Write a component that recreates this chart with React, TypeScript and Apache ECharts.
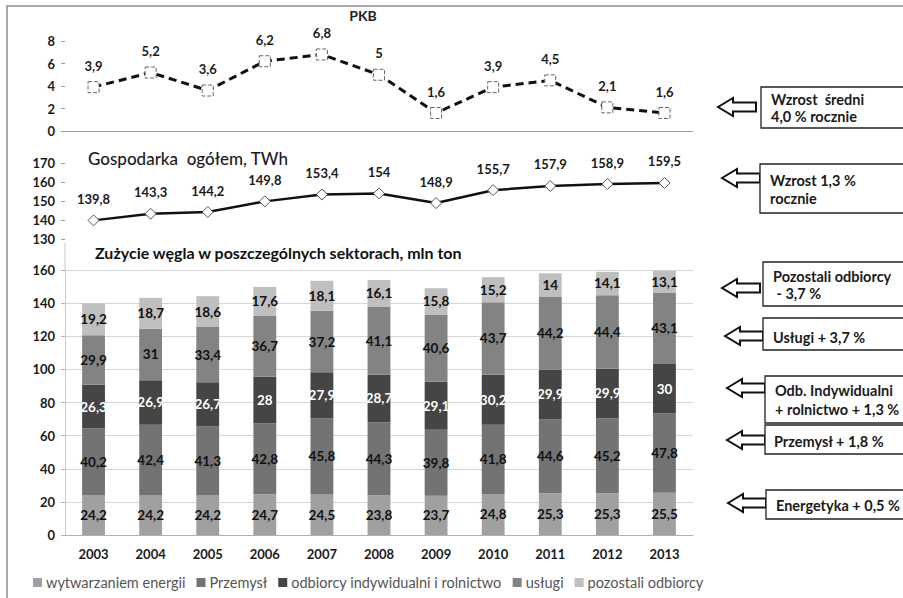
import React, { useEffect, useRef } from "react";
import * as echarts from "echarts";

const years = ["2003", "2004", "2005", "2006", "2007", "2008", "2009", "2010", "2011", "2012", "2013"];
const pkb = [3.9, 5.2, 3.6, 6.2, 6.8, 5, 1.6, 3.9, 4.5, 2.1, 1.6];
const gospodarka = [139.8, 143.3, 144.2, 149.8, 153.4, 154, 148.9, 155.7, 157.9, 158.9, 159.5];
const energia = [24.2, 24.2, 24.2, 24.7, 24.5, 23.8, 23.7, 24.8, 25.3, 25.3, 25.5];
const przemysl = [40.2, 42.4, 41.3, 42.8, 45.8, 44.3, 39.8, 41.8, 44.6, 45.2, 47.8];
const indywidualni = [26.3, 26.9, 26.7, 28, 27.9, 28.7, 29.1, 30.2, 29.9, 29.9, 30];
const uslugi = [29.9, 31, 33.4, 36.7, 37.2, 41.1, 40.6, 43.7, 44.2, 44.4, 43.1];
const pozostali = [19.2, 18.7, 18.6, 17.6, 18.1, 16.1, 15.8, 15.2, 14, 14.1, 13.1];

const barNames = [
  "wytwarzaniem energii",
  "Przemysł",
  "odbiorcy indywidualni i rolnictwo",
  "usługi",
  "pozostali odbiorcy",
];
const barData = [energia, przemysl, indywidualni, uslugi, pozostali];
const barColors = ["#a0a0a0", "#737373", "#454545", "#838383", "#bfbfbf"];
const barLabelColors = ["#111", "#111", "#fff", "#111", "#111"];

const annotations = [
  { tip: 718, yc: 107, bx: 761, by: 87, bh: 41, tx: 771, lines: [["Wzrost  średni", 99], ["4,0 % rocznie", 116]] },
  { tip: 722, yc: 178, bx: 760, by: 164, bh: 49, tx: 770, lines: [["Wzrost 1,3 %", 180], ["rocznie", 198]] },
  { tip: 722, yc: 288, bx: 763, by: 262, bh: 44, tx: 773, lines: [["Pozostali odbiorcy", 276], [" - 3,7 %", 293]] },
  { tip: 725, yc: 336, bx: 763, by: 318, bh: 32, tx: 773, lines: [["Usługi + 3,7 %", 337]] },
  { tip: 727, yc: 388, bx: 765, by: 376, bh: 47, tx: 775, lines: [["Odb. Indywidualni", 390], ["+ rolnictwo + 1,3 %", 409]] },
  { tip: 727, yc: 440, bx: 765, by: 425, bh: 29, tx: 774, lines: [["Przemysł + 1,8 %", 441]] },
  { tip: 728, yc: 503, bx: 766, by: 490, bh: 29, tx: 776, lines: [["Energetyka + 0,5 %", 505]] },
];

const FONT = "Lato, 'Open Sans', sans-serif";
const fmt = (p: any) => String(p.value).replace(".", ",");

export default function App() {
  const ref = useRef<HTMLDivElement>(null);
  useEffect(() => {
    if (!ref.current) return;
    const chart = echarts.init(ref.current, undefined, { renderer: "svg" });

    const graphics: any[] = [
      { type: "rect", shape: { x: 7, y: 6, width: 1000, height: 1000 }, style: { fill: "none", stroke: "#8a8a8a", lineWidth: 1.5 }, silent: true },
      { type: "line", shape: { x1: 65, y1: 243, x2: 65, y2: 270 }, style: { stroke: "#c8c8c8", lineWidth: 1 } },
      { type: "text", x: 363, y: 15, style: { text: "PKB", font: `bold 14px ${FONT}`, fill: "#222", textAlign: "center", textVerticalAlign: "middle" } },
      { type: "text", x: 88, y: 158, style: { text: "Gospodarka  ogółem, TWh", font: `500 17px ${FONT}`, fill: "#1a1a1a", textAlign: "left", textVerticalAlign: "middle" } },
      { type: "text", x: 95, y: 252, style: { text: "Zużycie węgla w poszczególnych sektorach, mln ton", font: `bold 16px ${FONT}`, fill: "#111", textAlign: "left", textVerticalAlign: "middle" } },
    ];
    annotations.forEach((a) => {
      const t = a.tip, y = a.yc;
      graphics.push({
        type: "polygon",
        shape: { points: [[t, y], [t + 15, y - 9], [t + 15, y - 4.5], [t + 38, y - 4.5], [t + 38, y + 4.5], [t + 15, y + 4.5], [t + 15, y + 9]] },
        style: { fill: "#fff", stroke: "#111", lineWidth: 2 },
      });
      graphics.push({ type: "rect", shape: { x: a.bx, y: a.by, width: 160, height: a.bh }, style: { fill: "#fff", stroke: "#222", lineWidth: 1.3 } });
      a.lines.forEach(([txt, ty]) => {
        graphics.push({ type: "text", x: a.tx, y: ty as number, style: { text: txt, font: `bold 14.5px ${FONT}`, fill: "#1a1a1a", textAlign: "left", textVerticalAlign: "middle" } });
      });
    });

    const yLabel = { fontFamily: FONT, fontWeight: "bold", fontSize: 13, color: "#1a1a1a", margin: 10 };
    const option: any = {
      animation: false,
      backgroundColor: "#fff",
      grid: [
        { left: 65, top: 41, width: 628, height: 90 },
        { left: 65, top: 163, width: 628, height: 76 },
        { left: 65, top: 270, width: 628, height: 265 },
      ],
      xAxis: [
        { type: "category", gridIndex: 0, data: years, axisLine: { lineStyle: { color: "#a0a0a0" } }, axisTick: { length: 4, lineStyle: { color: "#a0a0a0" } }, axisLabel: { show: false } },
        { type: "category", gridIndex: 1, data: years, show: false },
        { type: "category", gridIndex: 2, data: years, axisLine: { lineStyle: { color: "#b0b0b0" } }, axisTick: { length: 4, lineStyle: { color: "#b0b0b0" } }, axisLabel: { ...yLabel, margin: 12 } },
      ],
      yAxis: [
        { type: "value", gridIndex: 0, min: 0, max: 8, interval: 2, axisLine: { show: false }, axisTick: { show: true, length: 4, lineStyle: { color: "#a0a0a0" } }, splitLine: { show: false }, axisLabel: yLabel },
        { type: "value", gridIndex: 1, min: 130, max: 170, interval: 10, axisLine: { show: false }, axisTick: { show: true, length: 4, lineStyle: { color: "#a0a0a0" } }, splitLine: { show: false }, axisLabel: yLabel },
        { type: "value", gridIndex: 2, min: 0, max: 160, interval: 20, axisLine: { show: true, lineStyle: { color: "#c8c8c8" } }, axisTick: { show: true, length: 4, lineStyle: { color: "#b0b0b0" } }, splitLine: { lineStyle: { color: "#d6d6d6" } }, axisLabel: yLabel },
      ],
      legend: {
        data: barNames,
        left: 28,
        top: 570,
        itemWidth: 9,
        itemHeight: 9,
        itemGap: 11,
        icon: "rect",
        textStyle: { fontFamily: FONT, fontSize: 14.5, color: "#555", padding: [0, 0, 0, -1] },
      },
      series: [
        {
          type: "line",
          name: "PKB",
          xAxisIndex: 0,
          yAxisIndex: 0,
          data: pkb,
          lineStyle: { color: "#111", width: 3, type: [8, 5] },
          symbol: "rect",
          symbolSize: 11,
          itemStyle: { color: "#fff", borderColor: "#666", borderWidth: 1, borderType: "dashed" },
          label: { show: true, position: "top", distance: 9, formatter: fmt, fontFamily: FONT, fontWeight: "bold", fontSize: 13, color: "#1a1a1a" },
          z: 5,
        },
        {
          type: "line",
          name: "Gospodarka",
          xAxisIndex: 1,
          yAxisIndex: 1,
          data: gospodarka,
          lineStyle: { color: "#111", width: 2.5 },
          symbol: "diamond",
          symbolSize: [11, 11],
          itemStyle: { color: "#fff", borderColor: "#555", borderWidth: 1 },
          label: { show: true, position: "top", distance: 9, formatter: fmt, fontFamily: FONT, fontWeight: "bold", fontSize: 13, color: "#1a1a1a" },
          z: 5,
        },
        ...barNames.map((name, i) => ({
          type: "bar",
          name,
          stack: "coal",
          xAxisIndex: 2,
          yAxisIndex: 2,
          data: barData[i],
          barWidth: "40%",
          itemStyle: { color: barColors[i] },
          label: { show: true, position: "inside", formatter: fmt, fontFamily: FONT, fontWeight: "bold", fontSize: 13.5, color: barLabelColors[i] },
        })),
      ],
      graphic: graphics,
    };
    chart.setOption(option);
    return () => chart.dispose();
  }, []);
  return <div ref={ref} style={{ position: "fixed", left: 0, top: 0, width: 903, height: 598, background: "#fff" }} />;
}
